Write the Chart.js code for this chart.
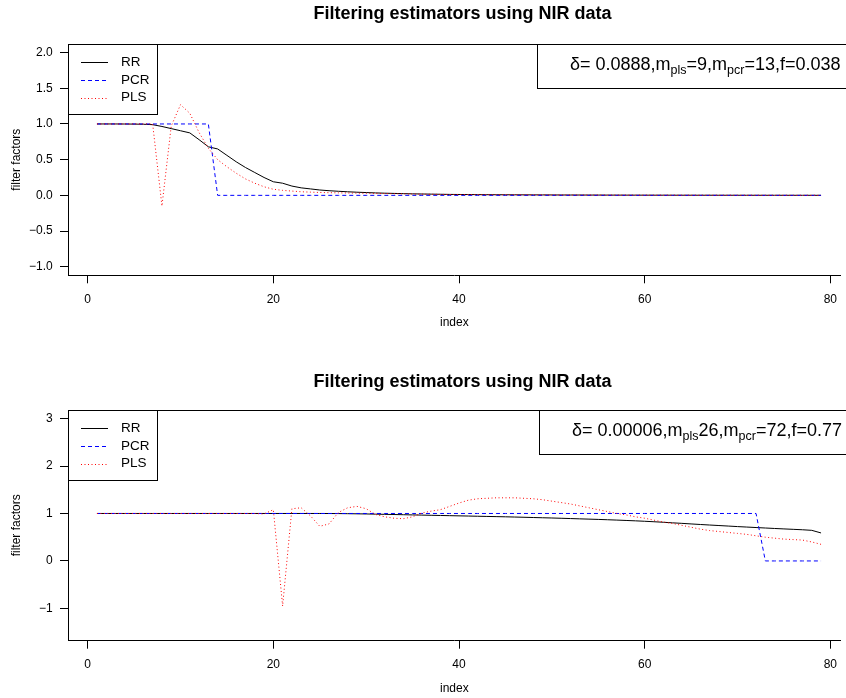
<!DOCTYPE html>
<html>
<head>
<meta charset="utf-8">
<title>Filtering estimators using NIR data</title>
<script src="https://cdn.jsdelivr.net/npm/chart.js@4.4.1/dist/chart.umd.min.js"></script>
<style>
  html, body { margin: 0; padding: 0; background: #fff; }
  canvas { display: block; }
</style>
</head>
<body>
<canvas id="chartTop" width="846" height="349"></canvas>
<canvas id="chartBottom" width="846" height="349"></canvas>
<script>
// index of the filter factor
const index = [1, 2, 3, 4, 5, 6, 7, 8, 9, 10, 11, 12, 13, 14, 15, 16, 17, 18, 19, 20,
  21, 22, 23, 24, 25, 26, 27, 28, 29, 30, 31, 32, 33, 34, 35, 36, 37, 38, 39, 40,
  41, 42, 43, 44, 45, 46, 47, 48, 49, 50, 51, 52, 53, 54, 55, 56, 57, 58, 59, 60,
  61, 62, 63, 64, 65, 66, 67, 68, 69, 70, 71, 72, 73, 74, 75, 76, 77, 78, 79];

// top panel (delta = 0.0888)
const rrTop = [1.000, 1.000, 1.000, 0.999, 0.998, 0.996, 0.990, 0.965, 0.935, 0.905,
  0.875, 0.780, 0.680, 0.650, 0.560, 0.470, 0.390, 0.320, 0.250, 0.190,
  0.170, 0.130, 0.105, 0.090, 0.075, 0.065, 0.057, 0.050, 0.044, 0.039,
  0.034, 0.030, 0.027, 0.024, 0.021, 0.019, 0.017, 0.015, 0.013, 0.012,
  0.011, 0.010, 0.009, 0.0085, 0.008, 0.0075, 0.007, 0.0065, 0.006, 0.0055,
  0.005, 0.0047, 0.0044, 0.0041, 0.0038, 0.0035, 0.0032, 0.003, 0.0028, 0.0026,
  0.0024, 0.0022, 0.002, 0.0019, 0.0018, 0.0017, 0.0016, 0.0015, 0.0014, 0.0013,
  0.0012, 0.0011, 0.001, 0.0009, 0.0008, 0.0007, 0.0006, 0.0005, 0.0004];
const pcrTop = [1, 1, 1, 1, 1, 1, 1, 1, 1, 1, 1, 1, 1, 0, 0, 0, 0, 0, 0, 0,
  0, 0, 0, 0, 0, 0, 0, 0, 0, 0, 0, 0, 0, 0, 0, 0, 0, 0, 0, 0,
  0, 0, 0, 0, 0, 0, 0, 0, 0, 0, 0, 0, 0, 0, 0, 0, 0, 0, 0, 0,
  0, 0, 0, 0, 0, 0, 0, 0, 0, 0, 0, 0, 0, 0, 0, 0, 0, 0, 0];
const plsTop = [1.000, 1.000, 1.000, 1.000, 1.000, 1.000, 1.000, -0.150, 0.970, 1.270,
  1.150, 0.880, 0.660, 0.500, 0.400, 0.310, 0.230, 0.170, 0.120, 0.085,
  0.070, 0.060, 0.050, 0.045, 0.040, 0.037, 0.035, 0.033, 0.031, 0.029,
  0.027, 0.025, 0.023, 0.021, 0.019, 0.017, 0.015, 0.013, 0.012, 0.011,
  0.011, 0.010, 0.009, 0.0085, 0.008, 0.0075, 0.007, 0.0065, 0.006, 0.0055,
  0.005, 0.0047, 0.0044, 0.0041, 0.0038, 0.0035, 0.0032, 0.003, 0.0028, 0.0026,
  0.0024, 0.0022, 0.002, 0.0019, 0.0018, 0.0017, 0.0016, 0.0015, 0.0014, 0.0013,
  0.0012, 0.0011, 0.001, 0.0009, 0.0008, 0.0007, 0.0006, 0.0005, 0.0004];

// bottom panel (delta = 0.00006)
const rrBottom = [1, 1, 1, 1, 1, 1, 1, 1, 1, 1, 1, 1, 1, 1, 1, 1, 1, 1, 1, 1,
  1, 1, 1, 1, 1, 0.999, 0.998, 0.996, 0.993, 0.990,
  0.986, 0.982, 0.978, 0.974, 0.970, 0.966, 0.962, 0.958, 0.954, 0.950,
  0.946, 0.942, 0.938, 0.934, 0.930, 0.925, 0.920, 0.915, 0.910, 0.905,
  0.899, 0.893, 0.887, 0.881, 0.875, 0.868, 0.861, 0.853, 0.845, 0.836,
  0.826, 0.815, 0.803, 0.792, 0.780, 0.768, 0.757, 0.746, 0.735, 0.724,
  0.714, 0.704, 0.694, 0.684, 0.675, 0.666, 0.657, 0.645, 0.590];
const pcrBottom = [1, 1, 1, 1, 1, 1, 1, 1, 1, 1, 1, 1, 1, 1, 1, 1, 1, 1, 1, 1,
  1, 1, 1, 1, 1, 1, 1, 1, 1, 1, 1, 1, 1, 1, 1, 1, 1, 1, 1, 1,
  1, 1, 1, 1, 1, 1, 1, 1, 1, 1, 1, 1, 1, 1, 1, 1, 1, 1, 1, 1,
  1, 1, 1, 1, 1, 1, 1, 1, 1, 1, 1, 1, 0, 0, 0, 0, 0, 0, 0];
const plsBottom = [1, 1, 1, 1, 1, 1, 1, 1, 1, 1, 1, 1, 1, 1, 1, 1, 1, 1, 0.99, 1.08,
  -0.95, 1.10, 1.12, 0.95, 0.73, 0.78, 1.02, 1.12, 1.15, 1.10,
  0.98, 0.93, 0.90, 0.89, 0.93, 1.01, 1.05, 1.08, 1.15, 1.22,
  1.28, 1.31, 1.32, 1.33, 1.33, 1.33, 1.32, 1.31, 1.29, 1.26,
  1.23, 1.20, 1.16, 1.12, 1.08, 1.04, 1.00, 0.97, 0.93, 0.90,
  0.86, 0.82, 0.79, 0.75, 0.71, 0.67, 0.64, 0.62, 0.60, 0.58,
  0.56, 0.53, 0.50, 0.48, 0.46, 0.45, 0.44, 0.40, 0.35];

// ticks
const xTicks = [0, 20, 40, 60, 80];
const yTicksTop = [-1, -0.5, 0, 0.5, 1, 1.5, 2];
const yLabelsTop = ["\u22121.0", "\u22120.5", "0.0", "0.5", "1.0", "1.5", "2.0"];
const yTicksBottom = [-1, 0, 1, 2, 3];
const yLabelsBottom = ["\u22121", "0", "1", "2", "3"];

const seriesNames = ["RR", "PCR", "PLS"];
const FONT = '"Liberation Sans", Arial, Helvetica, sans-serif';

// box top edge, title, legend and the delta/m/f note, drawn the way R does
const rDecor = {
  id: 'rDecor',
  afterDraw(chart, args, o) {
    const ctx = chart.ctx, a = chart.chartArea;
    ctx.save();
    ctx.strokeStyle = '#000';
    ctx.lineWidth = 1;
    ctx.setLineDash([]);
    ctx.beginPath();
    ctx.moveTo(a.left, a.top + 0.5);
    ctx.lineTo(chart.width, a.top + 0.5);
    ctx.stroke();

    ctx.fillStyle = '#000';
    ctx.font = 'bold 18px ' + FONT;
    ctx.textAlign = 'center';
    ctx.textBaseline = 'middle';
    ctx.fillText('Filtering estimators using NIR data', 462.5, o.titleY);

    // legend
    ctx.fillStyle = '#fff';
    ctx.fillRect(a.left, a.top, 89, 70);
    ctx.strokeRect(a.left + 0.5, a.top + 0.5, 89, 70);
    ctx.font = '13.5px ' + FONT;
    ctx.textAlign = 'left';
    chart.data.datasets.forEach((ds, k) => {
      const y = a.top + 18.3 + k * 17.6;
      ctx.strokeStyle = ds.borderColor;
      ctx.setLineDash(ds.borderDash || []);
      ctx.beginPath();
      ctx.moveTo(81, Math.round(y) + 0.5);
      ctx.lineTo(108, Math.round(y) + 0.5);
      ctx.stroke();
      ctx.fillStyle = '#000';
      ctx.fillText(ds.label, 121, y);
    });

    // note box
    ctx.setLineDash([]);
    ctx.strokeStyle = '#000';
    ctx.fillStyle = '#fff';
    ctx.fillRect(o.noteX, a.top, chart.width - o.noteX, 44);
    ctx.strokeRect(o.noteX + 0.5, a.top + 0.5, chart.width, 44);
    ctx.fillStyle = '#000';
    ctx.textBaseline = 'alphabetic';
    let x = o.noteX + 33;
    const base = a.top + 26;
    o.note.forEach(part => {
      ctx.font = (part.sub ? '12.5px ' : '18px ') + FONT;
      const yy = part.sub ? base + 4 : base;
      ctx.fillText(part.t, x, yy);
      x += ctx.measureText(part.t).width;
    });
    ctx.restore();
  }
};

function makeChart(id, rr, pcr, pls, yMin, yMax, yTicks, yLabels, top, xHeight, idxPad, titleY, noteX, note) {
  const pts = arr => index.map((x, k) => ({ x: x, y: arr[k] }));
  return new Chart(document.getElementById(id), {
    type: 'line',
    data: {
      datasets: [
        { label: seriesNames[0], data: pts(rr), borderColor: '#000000', borderWidth: 1, borderDash: [], order: 3 },
        { label: seriesNames[1], data: pts(pcr), borderColor: '#0000ff', borderWidth: 1, borderDash: [4, 3], order: 2 },
        { label: seriesNames[2], data: pts(pls), borderColor: '#ff0000', borderWidth: 1, borderDash: [1, 2.5], order: 1 }
      ]
    },
    options: {
      responsive: false,
      animation: false,
      devicePixelRatio: 1,
      elements: { point: { radius: 0 }, line: { tension: 0 } },
      layout: { padding: { left: 0, right: 0, top: top, bottom: 0 } },
      plugins: {
        legend: { display: false },
        tooltip: { enabled: false },
        title: { display: false },
        rDecor: { titleY: titleY, noteX: noteX, note: note }
      },
      scales: {
        x: {
          type: 'linear',
          min: -2.12,
          max: 81.12,
          afterFit: s => { s.height = xHeight; },
          afterBuildTicks: s => { s.ticks = xTicks.map(v => ({ value: v })); },
          grid: { drawOnChartArea: false, tickLength: 8, color: '#000' },
          border: { color: '#000', width: 1 },
          ticks: { color: '#000', font: { size: 12, family: FONT }, padding: 9, maxRotation: 0, autoSkip: false,
                   callback: v => String(v) },
          title: { display: true, text: 'index', color: '#000', font: { size: 12, family: FONT },
                   padding: { top: 0, bottom: idxPad } }
        },
        y: {
          type: 'linear',
          min: yMin,
          max: yMax,
          afterFit: s => { s.width = 68; },
          afterBuildTicks: s => { s.ticks = yTicks.map(v => ({ value: v })); },
          grid: { drawOnChartArea: false, tickLength: 8, color: '#000' },
          border: { color: '#000', width: 1 },
          ticks: { color: '#000', font: { size: 12, family: FONT }, padding: 7.3, autoSkip: false,
                   callback: (v, i) => yLabels[i] },
          title: { display: true, text: 'filter factors', color: '#000', font: { size: 12, family: FONT },
                   padding: { top: 9.8, bottom: 0 } }
        }
      }
    },
    plugins: [rDecor]
  });
}

makeChart('chartTop', rrTop, pcrTop, plsTop, -1.12, 2.12, yTicksTop, yLabelsTop,
  44, 73.7, 19, 14, 537,
  [{ t: '\u03b4= 0.0888,m' }, { t: 'pls', sub: true }, { t: '=9,m' }, { t: 'pcr', sub: true }, { t: '=13,f=0.038' }]);

makeChart('chartBottom', rrBottom, pcrBottom, plsBottom, -1.68, 3.18, yTicksBottom, yLabelsBottom,
  61, 57.3, 1.8, 33, 539,
  [{ t: '\u03b4= 0.00006,m' }, { t: 'pls', sub: true }, { t: '26,m' }, { t: 'pcr', sub: true }, { t: '=72,f=0.77' }]);
</script>
</body>
</html>
